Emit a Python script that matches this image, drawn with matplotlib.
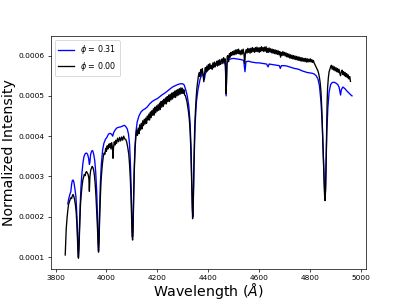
import numpy as np
import matplotlib
matplotlib.use("Agg")
import matplotlib.pyplot as plt

# ---- data (intensity in units of 1e-4) ----
blue_wave = [3848, 3852, 3856, 3860, 3863, 3866, 3869, 3872, 3876, 3880, 3883, 3886, 3888, 3890,
             3892, 3894, 3897, 3900, 3904, 3908, 3912, 3917, 3922, 3926, 3930, 3933, 3935, 3938,
             3942, 3946, 3950, 3954, 3958, 3962, 3965, 3967, 3969, 3971, 3973, 3976, 3980, 3985,
             3990, 3996, 4002, 4008, 4014, 4020, 4025, 4028, 4034, 4040, 4048, 4056, 4064, 4070,
             4076, 4082, 4087, 4091, 4094, 4097, 4100, 4102, 4104, 4106, 4109, 4112, 4116, 4121,
             4128, 4136, 4144, 4152, 4160, 4170, 4180, 4190, 4200, 4210, 4220, 4230, 4240, 4250,
             4260, 4270, 4280, 4290, 4300, 4306, 4312, 4318, 4324, 4329, 4333, 4336, 4338, 4340,
             4342, 4345, 4349, 4354, 4360, 4368, 4376, 4381, 4385, 4389, 4396, 4405, 4415, 4425,
             4435, 4445, 4455, 4464, 4468, 4471, 4474, 4480, 4490, 4500, 4510, 4520, 4530, 4540,
             4545, 4549, 4560, 4570, 4580, 4590, 4600, 4610, 4620, 4630, 4636, 4640, 4650, 4660,
             4670, 4680, 4684, 4688, 4700, 4710, 4720, 4730, 4740, 4750, 4760, 4770, 4780, 4790,
             4800, 4810, 4818, 4825, 4832, 4838, 4844, 4849, 4853, 4856, 4858, 4860, 4862, 4864,
             4867, 4871, 4876, 4882, 4888, 4895, 4902, 4910, 4915, 4918, 4921, 4924, 4930, 4938,
             4946, 4954, 4962, 4966]
blue_flux = [2.32, 2.45, 2.55, 2.62, 2.80, 2.90, 2.91, 2.86, 2.70, 2.50, 2.15, 1.70, 1.25, 1.00,
             1.30, 1.75, 2.30, 2.75, 3.10, 3.35, 3.50, 3.57, 3.58, 3.55, 3.45, 3.30, 3.35, 3.55,
             3.63, 3.64, 3.55, 3.40, 3.10, 2.60, 2.00, 1.50, 1.15, 1.50, 2.10, 2.80, 3.30, 3.65,
             3.82, 3.92, 3.97, 4.05, 4.07, 4.05, 4.00, 4.08, 4.15, 4.20, 4.22, 4.23, 4.25, 4.27,
             4.24, 4.18, 4.05, 3.80, 3.40, 2.80, 2.00, 1.50, 1.50, 2.20, 3.10, 3.70, 4.10, 4.35,
             4.50, 4.60, 4.65, 4.68, 4.72, 4.80, 4.86, 4.90, 4.93, 4.98, 5.03, 5.07, 5.12, 5.17,
             5.22, 5.25, 5.28, 5.30, 5.30, 5.27, 5.15, 5.00, 4.75, 4.35, 3.70, 2.80, 2.20, 2.00,
             2.40, 3.40, 4.30, 4.85, 5.15, 5.40, 5.55, 5.50, 5.40, 5.55, 5.62, 5.68, 5.72, 5.75,
             5.77, 5.80, 5.82, 5.85, 5.75, 5.00, 5.80, 5.90, 5.92, 5.93, 5.92, 5.91, 5.90, 5.88,
             5.60, 5.85, 5.86, 5.84, 5.83, 5.82, 5.82, 5.81, 5.80, 5.79, 5.72, 5.79, 5.78, 5.77,
             5.76, 5.75, 5.68, 5.75, 5.75, 5.74, 5.72, 5.70, 5.68, 5.67, 5.65, 5.62, 5.60, 5.58,
             5.57, 5.56, 5.54, 5.50, 5.42, 5.25, 4.85, 4.30, 3.60, 3.00, 2.65, 2.48, 2.70, 3.30,
             4.10, 4.70, 5.10, 5.28, 5.33, 5.34, 5.32, 5.28, 5.22, 5.12, 5.02, 5.15, 5.22, 5.18,
             5.12, 5.07, 5.02, 5.00]

black_wave = [3838, 3840, 3842, 3845, 3848, 3851, 3854, 3857, 3860, 3863, 3866, 3869, 3872, 3875,
              3878, 3881, 3884, 3886, 3888, 3890, 3892, 3894, 3896, 3898, 3901, 3904, 3907, 3910,
              3913, 3916, 3919, 3922, 3925, 3928, 3931, 3933, 3935, 3938, 3941, 3944, 3947, 3950,
              3953, 3956, 3959, 3962, 3965, 3967, 3969, 3971, 3973, 3976, 3979, 3982, 3985, 3988,
              3991, 3994, 3997, 4000, 4003, 4006, 4009, 4012, 4015, 4018, 4021, 4024, 4026, 4028,
              4031, 4034, 4037, 4040, 4044, 4048, 4052, 4056, 4060, 4064, 4068, 4072, 4076, 4080,
              4084, 4088, 4091, 4094, 4097, 4099, 4101, 4103, 4105, 4107, 4110, 4113, 4116, 4119,
              4122, 4125, 4128, 4131, 4134, 4137, 4140, 4143, 4146, 4149, 4152, 4155, 4158, 4161,
              4164, 4167, 4170, 4173, 4176, 4179, 4182, 4185, 4188, 4191, 4194, 4197, 4200, 4203,
              4206, 4209, 4212, 4215, 4218, 4221, 4224, 4227, 4230, 4233, 4236, 4239, 4242, 4245,
              4248, 4251, 4254, 4257, 4260, 4263, 4266, 4269, 4272, 4275, 4278, 4281, 4284, 4287,
              4290, 4293, 4296, 4299, 4302, 4305, 4308, 4311, 4314, 4317, 4320, 4323, 4326, 4329,
              4332, 4334, 4336, 4338, 4339, 4341, 4343, 4345, 4347, 4350, 4353, 4356, 4359, 4362,
              4365, 4368, 4371, 4374, 4377, 4380, 4383, 4386, 4389, 4392, 4395, 4398, 4401, 4404,
              4407, 4410, 4413, 4416, 4419, 4422, 4425, 4428, 4431, 4434, 4437, 4440, 4443, 4446,
              4449, 4452, 4455, 4458, 4461, 4464, 4467, 4469, 4471, 4473, 4475, 4478, 4481, 4484,
              4487, 4490, 4493, 4496, 4499, 4502, 4505, 4508, 4511, 4514, 4517, 4520, 4523, 4526,
              4529, 4532, 4535, 4538, 4541, 4544, 4547, 4550, 4553, 4556, 4559, 4562, 4565, 4568,
              4571, 4574, 4577, 4580, 4583, 4586, 4589, 4592, 4595, 4598, 4601, 4604, 4607, 4610,
              4613, 4616, 4619, 4622, 4625, 4628, 4631, 4634, 4637, 4640, 4643, 4646, 4649, 4652,
              4655, 4658, 4661, 4664, 4667, 4670, 4673, 4676, 4679, 4682, 4685, 4688, 4691, 4694,
              4697, 4700, 4703, 4706, 4709, 4712, 4715, 4718, 4721, 4724, 4727, 4730, 4733, 4736,
              4739, 4742, 4745, 4748, 4751, 4754, 4757, 4760, 4763, 4766, 4769, 4772, 4775, 4778,
              4781, 4784, 4787, 4790, 4793, 4796, 4799, 4802, 4805, 4808, 4811, 4814, 4817, 4820,
              4823, 4826, 4829, 4832, 4835, 4838, 4841, 4844, 4847, 4850, 4853, 4856, 4858, 4860,
              4862, 4864, 4866, 4868, 4870, 4873, 4876, 4879, 4882, 4885, 4888, 4891, 4894, 4897,
              4900, 4903, 4906, 4909, 4912, 4915, 4918, 4921, 4924, 4927, 4930, 4933, 4936, 4939,
              4942, 4945, 4948, 4951, 4954, 4957, 4960]
black_flux = [1.05, 1.40, 1.70, 1.95, 2.15, 2.30, 2.36, 2.42, 2.47, 2.45, 2.52, 2.55, 2.50, 2.42,
              2.30, 2.12, 1.80, 1.50, 1.15, 0.97, 1.20, 1.55, 1.95, 2.30, 2.55, 2.75, 2.90, 2.98,
              3.05, 3.02, 3.10, 3.12, 3.08, 3.05, 2.95, 2.63, 2.98, 3.15, 3.20, 3.25, 3.22, 3.15,
              3.02, 2.80, 2.50, 2.10, 1.70, 1.35, 1.12, 1.35, 1.85, 2.45, 2.90, 3.15, 3.35, 3.50,
              3.58, 3.55, 3.70, 3.62, 3.76, 3.68, 3.80, 3.72, 3.82, 3.68, 3.84, 3.70, 3.45, 3.72,
              3.86, 3.78, 3.90, 3.82, 3.95, 3.86, 3.97, 3.88, 3.98, 3.90, 4.00, 3.93, 3.92, 3.85,
              3.72, 3.55, 3.30, 2.95, 2.45, 1.95, 1.55, 1.42, 1.70, 2.40, 3.20, 3.70, 4.00, 4.15,
              4.02, 4.20, 4.06, 4.28, 4.15, 4.32, 4.18, 4.38, 4.26, 4.42, 4.30, 4.45, 4.32, 4.50,
              4.40, 4.55, 4.40, 4.60, 4.46, 4.63, 4.52, 4.68, 4.52, 4.72, 4.58, 4.75, 4.62, 4.78,
              4.64, 4.82, 4.66, 4.86, 4.72, 4.88, 4.74, 4.92, 4.80, 4.95, 4.80, 4.98, 4.86, 5.02,
              4.86, 5.04, 4.90, 5.07, 4.92, 5.09, 4.96, 5.12, 4.96, 5.14, 5.00, 5.16, 5.02, 5.18,
              5.04, 5.20, 5.06, 5.19, 5.06, 5.15, 5.02, 5.00, 4.92, 4.85, 4.72, 4.60, 4.42, 4.15,
              3.70, 3.20, 2.60, 2.10, 1.95, 2.20, 2.90, 3.60, 4.15, 4.60, 4.95, 5.20, 5.35, 5.50,
              5.58, 5.48, 5.65, 5.56, 5.68, 5.55, 5.35, 5.55, 5.70, 5.60, 5.74, 5.62, 5.78, 5.66,
              5.80, 5.68, 5.76, 5.66, 5.82, 5.70, 5.84, 5.72, 5.80, 5.86, 5.74, 5.88, 5.76, 5.90,
              5.78, 5.86, 5.92, 5.80, 5.95, 5.84, 5.92, 5.60, 5.05, 5.55, 5.98, 6.00, 5.85, 6.05,
              5.96, 6.08, 6.00, 6.10, 6.02, 6.12, 6.02, 6.14, 6.04, 6.15, 6.05, 6.16, 6.04, 6.12,
              6.02, 6.14, 6.04, 6.16, 6.05, 5.80, 6.08, 6.15, 6.06, 6.18, 6.08, 6.17, 6.06, 6.18,
              6.08, 6.20, 6.10, 6.18, 6.08, 6.20, 6.10, 6.21, 6.10, 6.19, 6.08, 6.20, 6.10, 6.22,
              6.12, 6.20, 6.10, 6.21, 6.11, 6.22, 6.08, 6.18, 6.08, 6.19, 6.09, 6.17, 6.07, 6.16,
              6.06, 6.15, 6.05, 6.14, 6.04, 6.13, 6.03, 6.12, 6.02, 6.10, 5.96, 6.08, 6.00, 6.10,
              6.01, 6.08, 5.99, 6.07, 5.97, 6.05, 5.96, 6.04, 5.94, 6.02, 5.93, 6.01, 5.92, 6.00,
              5.91, 5.99, 5.90, 5.98, 5.89, 5.97, 5.88, 5.96, 5.87, 5.95, 5.86, 5.94, 5.86, 5.93,
              5.85, 5.93, 5.84, 5.92, 5.84, 5.91, 5.85, 5.92, 5.84, 5.90, 5.83, 5.88, 5.82, 5.78,
              5.74, 5.70, 5.66, 5.62, 5.55, 5.45, 5.32, 5.10, 4.70, 4.10, 3.45, 2.85, 2.55, 2.40,
              2.65, 3.30, 4.10, 4.80, 5.20, 5.45, 5.60, 5.66, 5.72, 5.76, 5.66, 5.74, 5.64, 5.72,
              5.62, 5.70, 5.60, 5.68, 5.58, 5.66, 5.56, 5.50, 5.60, 5.64, 5.53, 5.60, 5.50, 5.58,
              5.48, 5.55, 5.45, 5.52, 5.42, 5.48, 5.36]

labels = [r"$\phi$ = 0.31", r"$\phi$ = 0.00"]
colors = ["blue", "black"]
unit = 1e-4

fig = plt.figure(figsize=(6.4, 4.75), dpi=63.6)
ax = fig.add_subplot(111)
ax.plot(blue_wave, np.array(blue_flux) * unit, color=colors[0], lw=1.5, label=labels[0])
ax.plot(black_wave, np.array(black_flux) * unit, color=colors[1], lw=1.5, label=labels[1])

ax.set_xticks([3800, 4000, 4200, 4400, 4600, 4800, 5000])
ax.set_yticks([0.0001, 0.0002, 0.0003, 0.0004, 0.0005, 0.0006])
ax.set_yticklabels(["0.0001", "0.0002", "0.0003", "0.0004", "0.0005", "0.0006"])
ax.tick_params(labelsize=8.5)
ax.set_xlabel(r"Wavelength ($\AA$)", fontsize=16, labelpad=0)
ax.set_ylabel("Normalized Intensity", fontsize=16, labelpad=3)
ax.legend(loc="upper left", fontsize=9)

fig.savefig("out.png", dpi=63.6)
